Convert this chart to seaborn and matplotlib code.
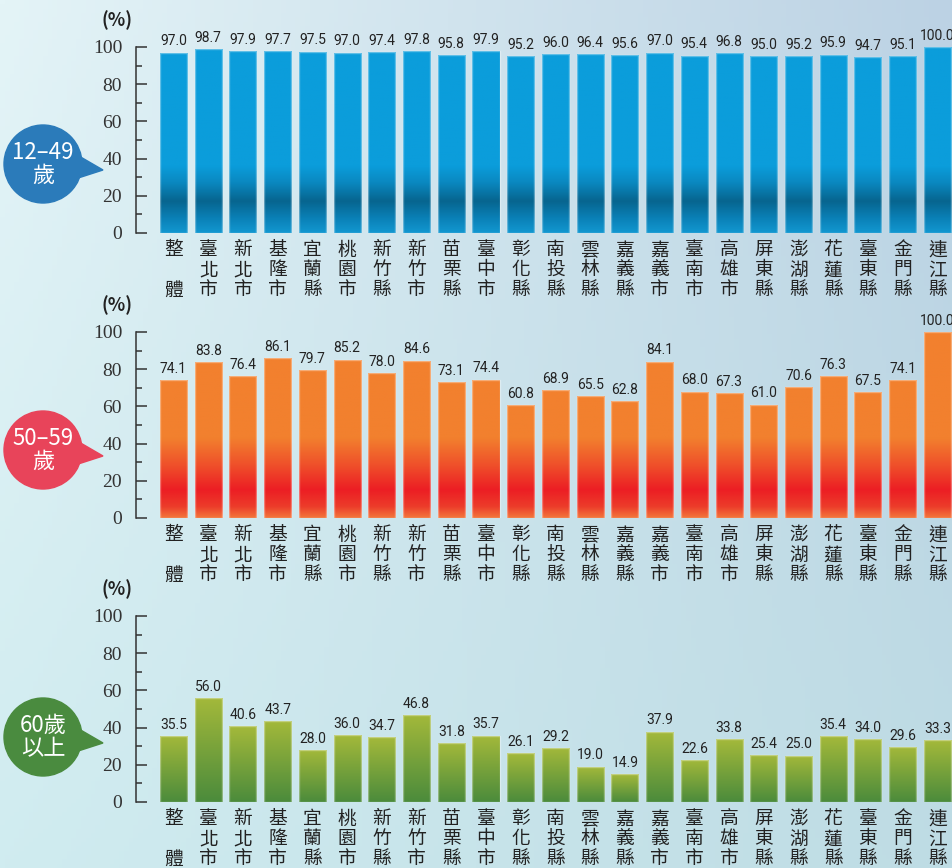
import matplotlib
matplotlib.use("Agg")
import matplotlib.pyplot as plt
import matplotlib.font_manager as fm
from matplotlib.colors import LinearSegmentedColormap
from matplotlib.patches import Circle, Polygon
import numpy as np
import seaborn as sns

# Data
regions = ["整體", "臺北市", "新北市", "基隆市", "宜蘭縣", "桃園市", "新竹縣", "新竹市",
           "苗栗縣", "臺中市", "彰化縣", "南投縣", "雲林縣", "嘉義縣", "嘉義市", "臺南市",
           "高雄市", "屏東縣", "澎湖縣", "花蓮縣", "臺東縣", "金門縣", "連江縣"]
age_12_49 = [97.0, 98.7, 97.9, 97.7, 97.5, 97.0, 97.4, 97.8, 95.8, 97.9, 95.2, 96.0,
             96.4, 95.6, 97.0, 95.4, 96.8, 95.0, 95.2, 95.9, 94.7, 95.1, 100.0]
age_50_59 = [74.1, 83.8, 76.4, 86.1, 79.7, 85.2, 78.0, 84.6, 73.1, 74.4, 60.8, 68.9,
             65.5, 62.8, 84.1, 68.0, 67.3, 61.0, 70.6, 76.3, 67.5, 74.1, 100.0]
age_60_up = [35.5, 56.0, 40.6, 43.7, 28.0, 36.0, 34.7, 46.8, 31.8, 35.7, 26.1, 29.2,
             19.0, 14.9, 37.9, 22.6, 33.8, 25.4, 25.0, 35.4, 34.0, 29.6, 33.3]
group_labels = ["12–49\n歲", "50–59\n歲", "60歲\n以上"]
y_ticks = [0, 20, 40, 60, 80, 100]

W, H = 953, 868
sns.set_style("white")
plt.rcParams["font.family"] = ["Noto Sans CJK TC", "DejaVu Sans"]

names = {f.name for f in fm.fontManager.ttflist}
num_font = "Liberation Sans Narrow" if "Liberation Sans Narrow" in names else "Roboto"
serif_font = "Liberation Serif"

fig = plt.figure(figsize=(W / 100, H / 100), dpi=100)

# background gradient
bg = fig.add_axes([0, 0, 1, 1], zorder=0)
bg.set_xlim(0, W)
bg.set_ylim(H, 0)
bg.axis("off")
tl = np.array([228, 244, 247]) / 255
tr = np.array([188, 210, 228]) / 255
bl = np.array([208, 236, 240]) / 255
br = np.array([190, 220, 228]) / 255
u = np.linspace(0, 1, 200)[None, :, None]
v = np.linspace(0, 1, 200)[:, None, None]
img = (1 - v) * ((1 - u) * tl + u * tr) + v * ((1 - u) * bl + u * br)
bg.imshow(img, extent=[0, W, H, 0], aspect="auto", zorder=0)

blue_cmap = LinearSegmentedColormap.from_list(
    "blue", [(0.0, "#1297d0"), (0.08, "#0a80b6"), (0.17, "#07658f"),
             (0.27, "#0a88c0"), (0.36, "#0b9ddb"), (1.0, "#0b9ddb")])
orange_cmap = LinearSegmentedColormap.from_list(
    "orange", [(0.0, "#f3763c"), (0.06, "#ec3c2a"), (0.15, "#ec1e24"),
               (0.28, "#ef4f2a"), (0.43, "#f2802e"), (1.0, "#f2802e")])
green_cmap = LinearSegmentedColormap.from_list("green", ["#4b8b3c", "#a4b93a"])

panels = [
    (age_12_49, blue_cmap, False, 233, "#2b7bba", 164),
    (age_50_59, orange_cmap, False, 518, "#e8445a", 450),
    (age_60_up, green_cmap, True, 802, "#4a8b3f", 737),
]

x_left, x_right = 136, W
xlo, xhi = -1.08, 22.45

for k, (vals, cmap, relative, y0, bcol, cy) in enumerate(panels):
    ax = fig.add_axes([x_left / W, 1 - y0 / H, (x_right - x_left) / W, 186 / H], zorder=2)
    ax.patch.set_alpha(0)
    sns.barplot(x=regions, y=vals, ax=ax, width=0.78, color="#888888",
                edgecolor=(1, 1, 1, 0.35), linewidth=1.0)
    for p in list(ax.patches):
        x, w, h = p.get_x(), p.get_width(), p.get_height()
        grad = np.linspace(0, 1, 256)[:, None]
        ext = [x, x + w, 0, h] if relative else [x, x + w, 0, 100]
        im = ax.imshow(grad, extent=ext, origin="lower", aspect="auto", cmap=cmap,
                       vmin=0, vmax=1, zorder=p.get_zorder() - 0.1)
        im.set_clip_path(p)
        p.set_facecolor("none")
    for i, val in enumerate(vals):
        ax.annotate(f"{val:.1f}", (i, val), xytext=(0, 3), textcoords="offset points",
                    ha="center", va="bottom", fontsize=10, color="#222222",
                    family=num_font, annotation_clip=False)
    ax.set_xlim(xlo, xhi)
    ax.set_ylim(0, 100)
    ax.set_yticks(y_ticks)
    ax.set_yticks(range(10, 100, 20), minor=True)
    ax.set_yticklabels([str(t) for t in y_ticks], family=serif_font, fontsize=14, color="#333333")
    ax.tick_params(axis="y", which="major", direction="in", length=8, width=1.1,
                   color="#333333", pad=10, left=True)
    ax.tick_params(axis="y", which="minor", direction="in", length=4.5, width=1.1,
                   color="#333333", left=True)
    ax.set_xticks([])
    ax.set_xlabel("")
    ax.set_ylabel("")
    for s in ["top", "right", "bottom"]:
        ax.spines[s].set_visible(False)
    ax.spines["left"].set_color("#333333")
    ax.spines["left"].set_linewidth(1.1)
    ax.spines["left"].set_bounds(0, 100)
    ax.annotate("(%)", (-0.023, 100), xycoords=("axes fraction", "data"),
                xytext=(0, 19), textcoords="offset points", ha="center", va="center",
                fontsize=13, color="#222222", fontweight="bold", annotation_clip=False)
    # vertical region labels
    for i, name in enumerate(regions):
        chars = list(name) if len(name) == 3 else [name[0], "", name[1]]
        for r, ch in enumerate(chars):
            if ch:
                ax.annotate(ch, (i, 0), xycoords=("data", "axes fraction"),
                            xytext=(0, -12.2 - r * 14.4), textcoords="offset points",
                            ha="center", va="center", fontsize=13.5, color="#222222",
                            annotation_clip=False)

    # speech bubble
    bg.add_patch(Polygon([[72, cy - 12], [103, cy + 6], [72, cy + 16]], closed=True,
                         color=bcol, zorder=3))
    bg.add_patch(Circle((43, cy), 39, color=bcol, zorder=3))
    bg.text(43, cy, group_labels[k], ha="center", va="center", color="white",
            fontsize=16, linespacing=1.0, zorder=4)

fig.savefig("out.png", dpi=100)
